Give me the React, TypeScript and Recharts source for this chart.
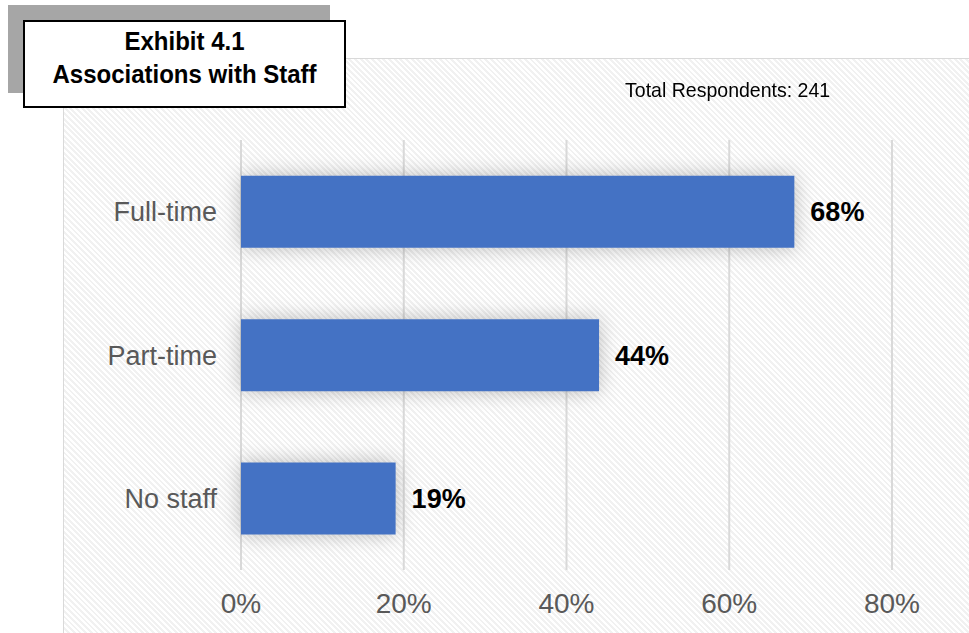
import React from "react";
import { BarChart, Bar, XAxis, YAxis, CartesianGrid, LabelList } from "recharts";

const categories = ["Full-time", "Part-time", "No staff"];
const shares = [0.68, 0.44, 0.19];
const xTicks = [0, 0.2, 0.4, 0.6, 0.8];
const titleLines = ["Exhibit 4.1", "Associations with Staff"];
const respondentsNote = "Total Respondents: 241";

const data = categories.map((c, i) => ({ category: c, value: shares[i] }));

const pct = (v: number) => `${Math.round(v * 100)}%`;

const FONT = "'Liberation Sans', Arial, sans-serif";

export default function App() {
  return (
    <div
      style={{
        position: "absolute",
        left: 0,
        top: 0,
        width: 969,
        height: 633,
        background: "#ffffff",
        overflow: "hidden",
        fontFamily: FONT,
      }}
    >
      {/* hatched chart frame */}
      <div
        style={{
          position: "absolute",
          left: 63,
          top: 58,
          width: 920,
          height: 590,
          border: "1px solid #d9d9d9",
          backgroundColor: "#ffffff",
          backgroundImage:
            "repeating-linear-gradient(45deg, #ffffff 0px, #ffffff 2px, #f1f1f1 2px, #f1f1f1 4px)",
        }}
      />
      <div style={{ position: "absolute", left: 0, top: 0 }}>
        <BarChart
          width={969}
          height={633}
          data={data}
          layout="vertical"
          margin={{ top: 140, right: 77, bottom: 23, left: 41 }}
          barCategoryGap="25%"
        >
          <CartesianGrid vertical={true} horizontal={false} stroke="#d9d9d9" strokeWidth={2} />
          <XAxis
            type="number"
            domain={[0, 0.8]}
            ticks={xTicks}
            tickFormatter={pct}
            axisLine={false}
            tickLine={false}
            tickMargin={17}
            height={40}
            tick={{ fill: "#595959", fontSize: 28, fontFamily: FONT }}
          />
          <YAxis
            type="category"
            dataKey="category"
            width={200}
            axisLine={false}
            tickLine={false}
            tickMargin={18}
            tick={{ fill: "#595959", fontSize: 27, fontFamily: FONT }}
          />
          <Bar
            dataKey="value"
            fill="#4472c4"
            isAnimationActive={false}
            style={{ filter: "drop-shadow(0px 0px 10px rgba(0,0,0,0.26))" }}
          >
            <LabelList
              dataKey="value"
              position="right"
              offset={16}
              formatter={(v: number) => pct(v)}
              style={{
                fill: "#000000",
                fontSize: 27,
                fontWeight: 700,
                fontFamily: FONT,
                filter: "none",
              }}
            />
          </Bar>
        </BarChart>
      </div>
      {/* respondents note */}
      <div
        style={{
          position: "absolute",
          left: 625,
          top: 77,
          fontSize: 21,
          color: "#000",
          fontFamily: FONT,
          whiteSpace: "nowrap",
          lineHeight: "26px",
          transform: "scaleX(0.93)",
          transformOrigin: "left center",
        }}
      >
        {respondentsNote}
      </div>
      {/* title box with shadow */}
      <div
        style={{
          position: "absolute",
          left: 8,
          top: 5,
          width: 322,
          height: 88,
          background: "#a6a6a6",
        }}
      />
      <div
        style={{
          position: "absolute",
          left: 23,
          top: 20,
          width: 319,
          height: 84,
          border: "2px solid #000",
          background: "#fff",
          display: "flex",
          flexDirection: "column",
          alignItems: "center",
          justifyContent: "center",
          boxSizing: "content-box",
        }}
      >
        <div
          style={{
            fontFamily: FONT,
            fontWeight: 700,
            fontSize: 25,
            lineHeight: "33px",
            color: "#000",
            textAlign: "center",
            transform: "scaleX(0.96) translateY(-6px)",
            whiteSpace: "nowrap",
          }}
        >
          {titleLines.map((t) => (
            <div key={t}>{t}</div>
          ))}
        </div>
      </div>
    </div>
  );
}
